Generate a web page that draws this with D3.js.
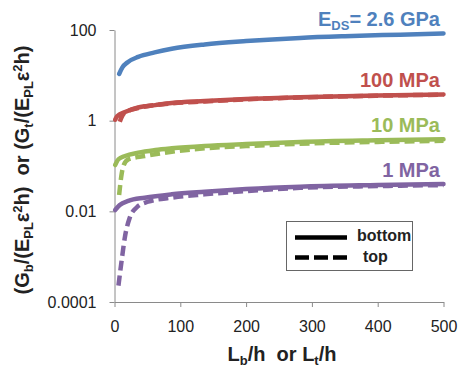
<!DOCTYPE html>
<html>
<head>
<meta charset="utf-8">
<script src="https://cdn.jsdelivr.net/npm/d3@7/dist/d3.min.js"></script>
<style>
  body { margin: 0; background: #fff; }
  svg { display: block; font-family: "Liberation Sans", Arial, sans-serif; }
  svg text { white-space: pre; }
  .axis path, .axis line { stroke: #8a8a8a; }
  .axis text { fill: #222; font-size: 16px; }
</style>
</head>
<body>
<svg id="chart" width="459" height="367"></svg>
<script>
// axis ticks
var xTicks = [0, 100, 200, 300, 400, 500];
var yTicks = [0.0001, 0.01, 1, 100];
var yTickLabels = ['0.0001', '0.01', '1', '100'];

// E_DS = 2.6 GPa
var blueL = [7, 12, 20, 36, 61, 87, 137, 200, 282, 350, 434, 500];
var blueBottom = [10.7, 15, 19.5, 25.5, 32, 38.5, 48, 57, 67, 73, 79, 84];

// 100 MPa
var redL = [1, 4, 16, 36, 62, 87, 137, 200, 282, 400, 500];
var redBottom = [1.05, 1.25, 1.55, 1.95, 2.2, 2.45, 2.7, 3.0, 3.3, 3.6, 3.8];
var redTopL = [8, 12, 16, 36, 87, 137, 200, 282, 400, 500];
var redTop = [0.95, 1.3, 1.5, 1.9, 2.4, 2.65, 2.95, 3.25, 3.55, 3.75];

// 10 MPa
var greenL = [1, 6, 16, 36, 62, 87, 137, 200, 282, 400, 500];
var greenBottom = [0.105, 0.141, 0.166, 0.197, 0.225, 0.245, 0.276, 0.305, 0.34, 0.37, 0.39];
var greenTopL = [7, 11, 14, 21, 46, 87, 137, 200, 282, 400, 500];
var greenTop = [0.023, 0.069, 0.105, 0.14, 0.166, 0.206, 0.245, 0.275, 0.31, 0.34, 0.36];

// 1 MPa
var purpleL = [1, 8, 21, 46, 87, 137, 200, 282, 400, 500];
var purpleBottom = [0.0107, 0.0138, 0.017, 0.020, 0.0237, 0.027, 0.031, 0.035, 0.038, 0.040];
var purpleTopL = [6, 11, 16, 23, 34, 51, 87, 137, 200, 282, 400, 500];
var purpleTop = [0.00023, 0.00085, 0.0028, 0.0071, 0.0123, 0.0163, 0.020, 0.0237, 0.028, 0.033, 0.036, 0.038];

var zip = function(xs, ys) { return xs.map(function(x, i) { return [x, ys[i]]; }); };

var series = [
  { color: '#4F81BD', label: ['E', 'DS', '= 2.6 GPa'], bottom: zip(blueL, blueBottom), top: null },
  { color: '#C0504D', label: ['100 MPa'], bottom: zip(redL, redBottom), top: zip(redTopL, redTop) },
  { color: '#9BBB59', label: ['10 MPa'], bottom: zip(greenL, greenBottom), top: zip(greenTopL, greenTop) },
  { color: '#8064A2', label: ['1 MPa'], bottom: zip(purpleL, purpleBottom), top: zip(purpleTopL, purpleTop) }
];

var svg = d3.select('#chart');
var margin = { top: 30, right: 15.5, bottom: 65, left: 114.5 };
var width = 459, height = 367;

var x = d3.scaleLinear().domain([0, 500]).range([margin.left, width - margin.right]);
var y = d3.scaleLog().domain([0.0001, 100]).range([height - margin.bottom, margin.top]);

svg.append('g')
  .attr('class', 'axis')
  .attr('transform', 'translate(0,' + (height - margin.bottom) + ')')
  .call(d3.axisBottom(x).tickValues(xTicks).tickFormat(d3.format('d'))
    .tickSize(5).tickSizeOuter(0).tickPadding(14));

svg.append('g')
  .attr('class', 'axis')
  .attr('transform', 'translate(' + margin.left + ',0)')
  .call(d3.axisLeft(y).tickValues(yTicks).tickFormat(function(d, i) { return yTickLabels[i]; })
    .tickSize(5).tickSizeOuter(0).tickPadding(13));

var line = d3.line()
  .x(function(d) { return x(d[0]); })
  .y(function(d) { return y(d[1]); })
  .curve(d3.curveMonotoneX);

var plot = svg.append('g');
series.forEach(function(s) {
  plot.append('path')
    .attr('d', line(s.bottom))
    .attr('fill', 'none')
    .attr('stroke', s.color)
    .attr('stroke-width', 4.5)
    .attr('stroke-linecap', 'round');
  if (s.top) {
    plot.append('path')
      .attr('d', line(s.top))
      .attr('fill', 'none')
      .attr('stroke', s.color)
      .attr('stroke-width', 4.5)
      .attr('stroke-dasharray', '10,5');
  }
  var last = s.bottom[s.bottom.length - 1];
  var t = svg.append('text')
    .attr('x', 440)
    .attr('y', y(last[1]) - 7)
    .attr('text-anchor', 'end')
    .attr('font-size', 20)
    .attr('font-weight', 'bold')
    .attr('fill', s.color);
  if (s.label.length === 3) {
    t.append('tspan').text(s.label[0]);
    t.append('tspan').attr('font-size', 13).attr('dy', 4).text(s.label[1]);
    t.append('tspan').attr('dy', -4).text(s.label[2]);
  } else {
    t.text(s.label[0]);
  }
});

// axis titles
var xt = svg.append('text')
  .attr('x', 282).attr('y', 361)
  .attr('text-anchor', 'middle')
  .attr('font-size', 20).attr('font-weight', 'bold').attr('fill', '#222');
xt.append('tspan').text('L');
xt.append('tspan').attr('font-size', 13).attr('dy', 4).text('b');
xt.append('tspan').attr('dy', -4).text('/h  or L');
xt.append('tspan').attr('font-size', 13).attr('dy', 4).text('t');
xt.append('tspan').attr('dy', -4).text('/h');

var yt = svg.append('text')
  .attr('transform', 'translate(29,170) rotate(-90)')
  .attr('text-anchor', 'middle')
  .attr('font-size', 20).attr('font-weight', 'bold').attr('fill', '#222');
var parts = [
  ['(G', 0], ['b', 1], ['/(E', 0], ['PL', 1], ['\u03b5', 0], ['2', 2], ['h)  or (G', 0],
  ['t', 1], ['/(E', 0], ['PL', 1], ['\u03b5', 0], ['2', 2], ['h)', 0]
];
var shift = 0;
parts.forEach(function(p) {
  var target = p[1] === 1 ? 4 : (p[1] === 2 ? -7 : 0);
  yt.append('tspan')
    .attr('font-size', p[1] ? 13 : 20)
    .attr('dy', target - shift)
    .text(p[0]);
  shift = target;
});

// legend
var legend = svg.append('g');
legend.append('rect')
  .attr('x', 286.5).attr('y', 221.5).attr('width', 126).attr('height', 49)
  .attr('fill', '#fff').attr('stroke', '#666').attr('stroke-width', 1);
legend.append('line')
  .attr('x1', 295).attr('x2', 347).attr('y1', 237.5).attr('y2', 237.5)
  .attr('stroke', '#000').attr('stroke-width', 4.5);
legend.append('line')
  .attr('x1', 295).attr('x2', 347).attr('y1', 257.5).attr('y2', 257.5)
  .attr('stroke', '#000').attr('stroke-width', 4.5).attr('stroke-dasharray', '14,5');
legend.append('text').attr('x', 357).attr('y', 241)
  .attr('font-size', 16).attr('font-weight', 'bold').attr('fill', '#222').text('bottom');
legend.append('text').attr('x', 363).attr('y', 262)
  .attr('font-size', 16).attr('font-weight', 'bold').attr('fill', '#222').text('top');
</script>
</body>
</html>
